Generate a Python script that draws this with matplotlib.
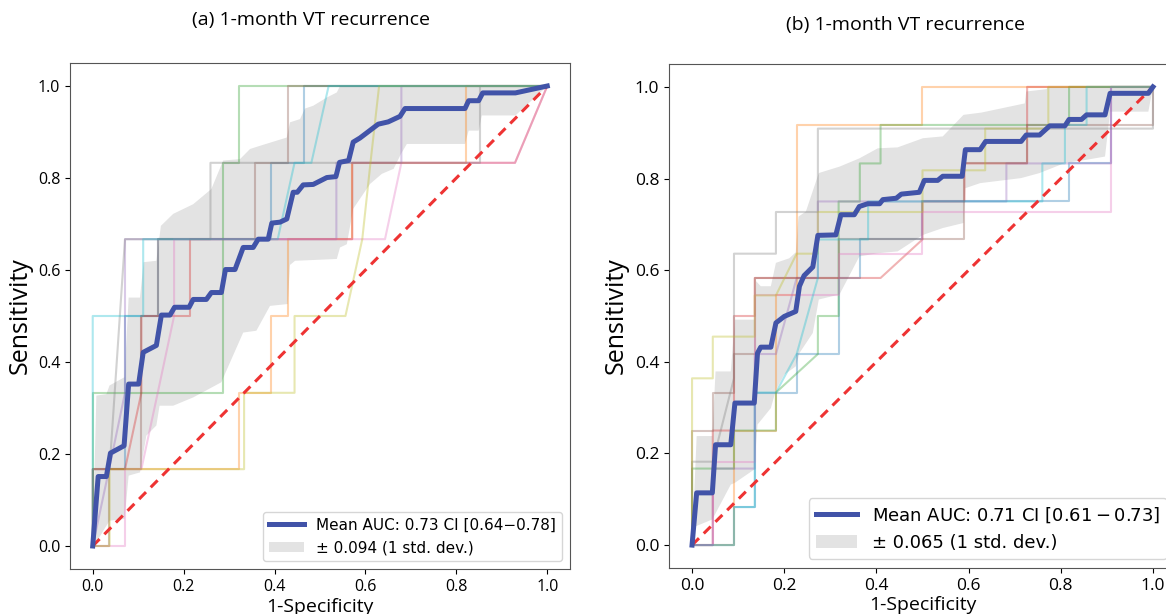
import numpy as np
import matplotlib.pyplot as plt

# ---- panel (a): mean ROC, std band, per-fold ROC curves ----
a_mean_fpr = [0, 0.012, 0.03, 0.039, 0.069, 0.079, 0.101, 0.111, 0.14, 0.151, 0.17, 0.18, 0.212, 0.221,
              0.25, 0.261, 0.283, 0.292, 0.313, 0.331, 0.353, 0.364, 0.386, 0.394, 0.412, 0.427, 0.441,
              0.45, 0.463, 0.485, 0.515, 0.535, 0.543, 0.563, 0.573, 0.588, 0.628, 0.65, 0.676, 0.687,
              0.819, 0.827, 0.849, 0.858, 0.93, 1.0]
a_mean_tpr = [0, 0.151, 0.151, 0.202, 0.218, 0.352, 0.352, 0.421, 0.436, 0.502, 0.502, 0.519, 0.519, 0.536,
              0.536, 0.551, 0.551, 0.601, 0.601, 0.649, 0.649, 0.667, 0.667, 0.702, 0.704, 0.711, 0.769,
              0.769, 0.785, 0.786, 0.801, 0.803, 0.834, 0.838, 0.878, 0.887, 0.917, 0.922, 0.934, 0.951,
              0.951, 0.968, 0.968, 0.985, 0.985, 1.0]
a_upper = [(0, 0), (0.008, 0.327), (0.03, 0.33), (0.037, 0.349), (0.07, 0.367), (0.079, 0.54), (0.104, 0.54),
           (0.112, 0.617), (0.14, 0.62), (0.15, 0.696), (0.177, 0.722), (0.221, 0.743), (0.261, 0.776),
           (0.287, 0.838), (0.324, 0.841), (0.346, 0.863), (0.368, 0.87), (0.427, 0.888), (0.434, 0.921),
           (0.456, 0.928), (0.467, 0.951), (0.485, 0.957), (0.515, 0.975), (0.537, 0.986), (0.544, 1.0),
           (1.0, 1.0)]
a_lower = [(0, 0), (0.012, 0.015), (0.037, 0.055), (0.07, 0.059), (0.079, 0.153), (0.104, 0.16), (0.118, 0.24),
           (0.14, 0.262), (0.147, 0.305), (0.177, 0.305), (0.221, 0.323), (0.283, 0.356), (0.294, 0.381),
           (0.331, 0.464), (0.36, 0.468), (0.39, 0.522), (0.429, 0.526), (0.434, 0.611), (0.445, 0.62),
           (0.537, 0.624), (0.544, 0.649), (0.559, 0.656), (0.573, 0.733), (0.61, 0.787), (0.636, 0.809),
           (0.662, 0.82), (0.678, 0.852), (0.691, 0.874), (0.819, 0.874), (0.827, 0.903), (0.849, 0.903),
           (0.856, 0.936), (0.93, 0.936), (1.0, 1.0)]
a_folds = [
    [(0, 0), (0, 0.167), (0.071, 0.167), (0.071, 0.5), (0.143, 0.5), (0.143, 0.667), (0.393, 0.667),
     (0.393, 0.833), (0.464, 0.833), (0.464, 1), (1, 1)],
    [(0, 0), (0, 0.167), (0.321, 0.167), (0.321, 0.333), (0.393, 0.333), (0.393, 0.5), (0.429, 0.5),
     (0.429, 0.667), (0.571, 0.667), (0.571, 0.833), (0.821, 0.833), (0.821, 1), (1, 1)],
    [(0, 0), (0, 0.333), (0.286, 0.333), (0.286, 0.833), (0.321, 0.833), (0.321, 1), (1, 1)],
    [(0, 0), (0, 0.167), (0.071, 0.167), (0.107, 0.333), (0.107, 0.5), (0.214, 0.5), (0.214, 0.667),
     (0.571, 0.667), (0.571, 0.833), (0.929, 0.833), (1, 1)],
    [(0, 0), (0.036, 0.167), (0.071, 0.333), (0.071, 0.667), (0.536, 0.667), (0.536, 0.833), (0.679, 0.833),
     (0.679, 1), (1, 1)],
    [(0, 0), (0.036, 0), (0.036, 0.167), (0.107, 0.167), (0.107, 0.5), (0.143, 0.5), (0.143, 0.667),
     (0.357, 0.667), (0.357, 0.833), (0.429, 0.833), (0.429, 1), (1, 1)],
    [(0, 0), (0.071, 0), (0.071, 0.167), (0.107, 0.167), (0.143, 0.333), (0.179, 0.5), (0.179, 0.667),
     (0.643, 0.667), (0.679, 0.833), (0.929, 0.833), (1, 1)],
    [(0, 0), (0, 0.167), (0.037, 0.167), (0.071, 0.667), (0.259, 0.667), (0.259, 0.833), (0.852, 0.833),
     (0.852, 1), (1, 1)],
    [(0, 0), (0.037, 0), (0.037, 0.167), (0.333, 0.167), (0.333, 0.333), (0.444, 0.333), (0.444, 0.5),
     (0.556, 0.5), (0.593, 0.667), (0.611, 0.833), (0.63, 1), (1, 1)],
    [(0, 0), (0, 0.5), (0.111, 0.5), (0.111, 0.667), (0.407, 0.667), (0.444, 0.833), (0.481, 0.833),
     (0.519, 1), (1, 1)],
]

# ---- panel (b) ----
b_mean_fpr = [0, 0.01, 0.044, 0.051, 0.084, 0.093, 0.135, 0.142, 0.149, 0.171, 0.182, 0.2, 0.225, 0.233,
              0.243, 0.262, 0.273, 0.312, 0.323, 0.352, 0.363, 0.381, 0.407, 0.414, 0.443, 0.454, 0.493,
              0.504, 0.533, 0.544, 0.586, 0.593, 0.625, 0.637, 0.714, 0.725, 0.754, 0.776, 0.809, 0.818,
              0.845, 0.856, 0.896, 0.907, 0.99, 1.0]
b_mean_tpr = [0, 0.114, 0.114, 0.219, 0.219, 0.31, 0.31, 0.419, 0.432, 0.432, 0.485, 0.499, 0.51, 0.565,
              0.588, 0.607, 0.676, 0.677, 0.721, 0.721, 0.739, 0.745, 0.745, 0.754, 0.757, 0.766, 0.77,
              0.796, 0.796, 0.805, 0.805, 0.863, 0.863, 0.881, 0.881, 0.895, 0.895, 0.915, 0.915, 0.929,
              0.929, 0.939, 0.939, 0.986, 0.986, 1.0]
b_upper = [(0, 0), (0.01, 0.238), (0.044, 0.238), (0.051, 0.379), (0.084, 0.379), (0.093, 0.492),
           (0.135, 0.492), (0.139, 0.576), (0.149, 0.565), (0.171, 0.565), (0.182, 0.616), (0.211, 0.626),
           (0.225, 0.639), (0.231, 0.717), (0.247, 0.728), (0.275, 0.812), (0.32, 0.826), (0.363, 0.844),
           (0.403, 0.866), (0.446, 0.868), (0.501, 0.888), (0.544, 0.892), (0.589, 0.939), (0.628, 0.944),
           (0.722, 0.964), (0.725, 0.99), (0.769, 0.995), (0.772, 1.0), (1, 1)]
b_lower = [(0, 0), (0.008, 0.041), (0.044, 0.056), (0.084, 0.132), (0.093, 0.136), (0.135, 0.165),
           (0.142, 0.263), (0.171, 0.299), (0.182, 0.339), (0.2, 0.372), (0.225, 0.39), (0.233, 0.419),
           (0.262, 0.463), (0.275, 0.536), (0.32, 0.547), (0.363, 0.63), (0.403, 0.637), (0.446, 0.641),
           (0.501, 0.677), (0.544, 0.692), (0.589, 0.703), (0.593, 0.779), (0.625, 0.79), (0.714, 0.801),
           (0.754, 0.812), (0.809, 0.834), (0.856, 0.841), (0.896, 0.848), (0.907, 0.946), (0.99, 0.946),
           (1, 1)]
b_folds = [
    [(0, 0), (0.091, 0), (0.091, 0.083), (0.136, 0.083), (0.136, 0.333), (0.227, 0.333), (0.227, 0.417),
     (0.318, 0.417), (0.318, 0.583), (0.364, 0.583), (0.364, 0.667), (0.5, 0.667), (0.5, 0.75),
     (0.818, 0.75), (0.818, 0.833), (0.909, 0.833), (0.909, 1), (1, 1)],
    [(0, 0), (0.091, 0), (0.091, 0.25), (0.182, 0.25), (0.182, 0.545), (0.227, 0.545), (0.227, 0.917),
     (0.5, 0.917), (0.5, 1), (1, 1)],
    [(0, 0), (0, 0.167), (0.091, 0.167), (0.091, 0.25), (0.182, 0.25), (0.182, 0.333), (0.273, 0.417),
     (0.273, 0.5), (0.318, 0.5), (0.318, 0.75), (0.364, 0.75), (0.364, 0.833), (0.409, 0.833),
     (0.409, 0.917), (0.818, 0.917), (0.818, 1), (1, 1)],
    [(0, 0), (0.045, 0), (0.045, 0.25), (0.091, 0.25), (0.091, 0.5), (0.136, 0.5), (0.136, 0.583),
     (0.409, 0.583), (0.5, 0.667), (0.5, 0.75), (0.591, 0.75), (0.591, 0.833), (0.727, 0.833),
     (0.727, 1), (1, 1)],
    [(0, 0), (0.045, 0), (0.045, 0.167), (0.136, 0.167), (0.136, 0.417), (0.182, 0.417), (0.227, 0.583),
     (0.273, 0.583), (0.273, 0.75), (0.682, 0.75), (0.682, 0.833), (0.909, 0.833), (0.909, 1), (1, 1)],
    [(0, 0), (0, 0.25), (0.045, 0.25), (0.045, 0.333), (0.091, 0.333), (0.091, 0.417), (0.136, 0.417),
     (0.136, 0.583), (0.318, 0.583), (0.318, 0.667), (0.591, 0.667), (0.591, 0.833), (0.727, 0.833),
     (0.727, 0.917), (1, 0.917), (1, 1)],
    [(0, 0), (0.045, 0), (0.045, 0.182), (0.136, 0.182), (0.136, 0.545), (0.318, 0.545), (0.318, 0.636),
     (0.5, 0.636), (0.5, 0.727), (0.909, 0.727), (0.909, 1), (1, 1)],
    [(0, 0), (0, 0.182), (0.045, 0.182), (0.091, 0.364), (0.091, 0.636), (0.182, 0.636), (0.182, 0.727),
     (0.273, 0.727), (0.273, 0.909), (1, 0.909), (1, 1)],
    [(0, 0), (0, 0.364), (0.045, 0.364), (0.045, 0.455), (0.136, 0.455), (0.136, 0.545), (0.182, 0.545),
     (0.227, 0.636), (0.273, 0.636), (0.273, 0.727), (0.5, 0.727), (0.5, 0.818), (0.636, 0.818),
     (0.636, 0.909), (0.773, 0.909), (0.773, 1), (1, 1)],
    [(0, 0), (0.091, 0), (0.091, 0.083), (0.136, 0.083), (0.136, 0.333), (0.182, 0.333), (0.227, 0.417),
     (0.273, 0.583), (0.273, 0.667), (0.382, 0.667), (0.382, 0.75), (0.76, 0.75), (0.76, 0.833),
     (0.809, 0.833), (0.809, 0.917), (0.856, 0.917), (0.856, 1), (1, 1)],
]

titles = ["(a) 1-month VT recurrence", "(b) 1-month VT recurrence"]
mean_labels = ["Mean AUC: 0.73 CI [0.64\u22120.78]", "Mean AUC: 0.71 CI [$0.61-0.73$]"]
std_labels = ["\u00b1 0.094 (1 std. dev.)", "\u00b1 0.065 (1 std. dev.)"]
ticks = [0.0, 0.2, 0.4, 0.6, 0.8, 1.0]

LABEL_FONT = ["Open Sans", "DejaVu Sans"]
MEAN_COLOR = "#4153a8"


def draw(ax, folds, mfpr, mtpr, upper, lower, mean_label, std_label, tick_fs, leg_fs):
    up = np.array(upper)
    lo = np.array(lower)
    band_x = np.concatenate([up[:, 0], lo[::-1, 0]])
    band_y = np.concatenate([up[:, 1], lo[::-1, 1]])
    cols = plt.cm.tab10.colors
    for i, f in enumerate(folds):
        p = np.array(f)
        ax.plot(p[:, 0], p[:, 1], color=cols[i], lw=1.5, alpha=0.35, zorder=2)
    ax.fill(band_x, band_y, color="#e3e3e3", lw=0, zorder=1, label=std_label)
    ax.plot([0, 1], [0, 1], ls=(0, (3.2, 2.2)), color="#ee3333", lw=2.2, zorder=3)
    ax.plot(mfpr, mtpr, color=MEAN_COLOR, lw=3.6, zorder=4, label=mean_label)
    ax.set_xlim(-0.05, 1.05)
    ax.set_ylim(-0.05, 1.05)
    ax.set_xticks(ticks)
    ax.set_yticks(ticks)
    ax.set_xticklabels([f"{t:.1f}" for t in ticks], family=LABEL_FONT, fontsize=tick_fs)
    ax.set_yticklabels([f"{t:.1f}" for t in ticks], family=LABEL_FONT, fontsize=tick_fs)
    for s in ax.spines.values():
        s.set_color("#555555")
    h, l = ax.get_legend_handles_labels()
    ax.legend(h[::-1], l[::-1], loc="lower right", fontsize=leg_fs, handlelength=2.3)
    ax.set_xlabel("1-Specificity", family=LABEL_FONT, fontsize=14, labelpad=2)
    ax.set_ylabel("Sensitivity", family=LABEL_FONT, fontsize=18, labelpad=4)


fig = plt.figure(figsize=(11.66, 6.14), dpi=100)
ax1 = fig.add_axes([70 / 1166, 45 / 614, 500 / 1166, 506 / 614])
ax2 = fig.add_axes([669 / 1166, 46 / 614, 507 / 1166, 504 / 614])

draw(ax1, a_folds, a_mean_fpr, a_mean_tpr, a_upper, a_lower, mean_labels[0], std_labels[0], 11.5, 11)
draw(ax2, b_folds, b_mean_fpr, b_mean_tpr, b_upper, b_lower, mean_labels[1], std_labels[1], 12.5, 13)

fig.text(311 / 1166, 1 - 20 / 614, titles[0], ha="center", va="center", family=LABEL_FONT, fontsize=14)
fig.text(905 / 1166, 1 - 25 / 614, titles[1], ha="center", va="center", family=LABEL_FONT, fontsize=14)

fig.savefig("out.png", dpi=100)
